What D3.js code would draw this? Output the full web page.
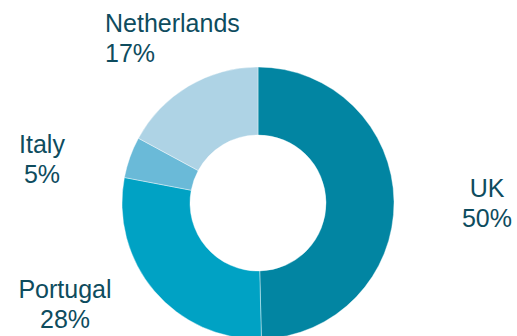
<!DOCTYPE html>
<html lang="en">
<head>
    <meta charset="UTF-8">
    <title>Share by country</title>
    <style>
        html, body {
            margin: 0;
            padding: 0;
            background-color: #ffffff;
            font-family: 'Liberation Sans', Arial, sans-serif;
        }
        #chart {
            width: 517px;
            height: 336px;
            overflow: hidden;
        }
    </style>
</head>
<body>
    <div id="chart"></div>
    <script src="https://d3js.org/d3.v7.min.js"></script>
    <script>
        // DATA (clockwise from 12 o'clock)
        const countries = ["UK", "Portugal", "Italy", "Netherlands"];
        const shares = [49.6, 28.4, 4.9, 17.1];
        const shareLabels = ["50%", "28%", "5%", "17%"];

        const colours = ["#0285a2", "#00a2c4", "#6abad8", "#aed3e5"];
        const textColour = "#0e4c5e";

        const width = 517, height = 336;
        const cx = 258, cy = 203;
        const outerR = 136, innerR = 68;
        const lineGap = 30;

        // label anchors relative to the donut centre (first baseline)
        const labelLayout = [
            {dx: 229, dy: -6, anchor: "middle"},
            {dx: -193, dy: 95, anchor: "middle"},
            {dx: -216, dy: -50, anchor: "middle"},
            {dx: -153, dy: -171, anchor: "start"}
        ];

        const svg = d3.select("#chart")
            .append("svg")
            .attr("width", width)
            .attr("height", height)
            .attr("viewBox", `0 0 ${width} ${height}`);

        const data = countries.map((c, i) => ({country: c, value: shares[i], label: shareLabels[i], i: i}));

        const pie = d3.pie()
            .sort(null)
            .value(d => d.value);

        const arc = d3.arc()
            .innerRadius(innerR)
            .outerRadius(outerR);

        const g = svg.append("g")
            .attr("transform", `translate(${cx},${cy})`);

        // SLICES
        g.selectAll("path")
            .data(pie(data))
            .enter()
            .append("path")
            .attr("d", arc)
            .attr("fill", d => colours[d.data.i])
            .attr("stroke", "#ffffff")
            .attr("stroke-width", 0.4);

        // LABELS
        const labels = g.selectAll("text")
            .data(data)
            .enter()
            .append("text")
            .attr("x", d => labelLayout[d.i].dx)
            .attr("y", d => labelLayout[d.i].dy)
            .attr("text-anchor", d => labelLayout[d.i].anchor)
            .style("font-size", "25px")
            .style("fill", textColour);

        labels.append("tspan")
            .attr("x", d => labelLayout[d.i].dx)
            .text(d => d.country);

        labels.append("tspan")
            .attr("x", d => labelLayout[d.i].dx)
            .attr("dy", lineGap)
            .text(d => d.label);
    </script>
</body>
</html>
